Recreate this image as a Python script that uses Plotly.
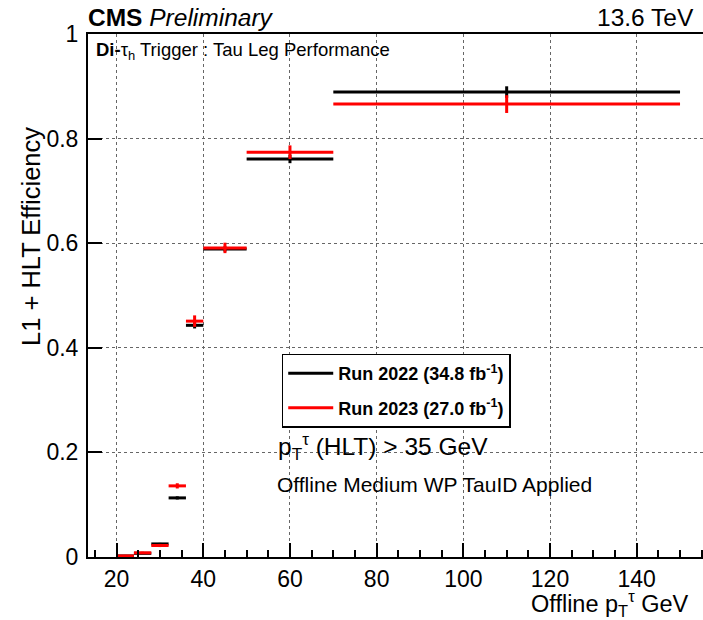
import plotly.graph_objects as go

# ---- data ----
bin_lo = [20, 24, 28, 32, 36, 40, 50, 70]
bin_hi = [24, 28, 32, 36, 40, 50, 70, 150]
eff_2022 = [0.002, 0.007, 0.025, 0.113, 0.443, 0.589, 0.761, 0.889]
err_2022 = [0.001, 0.001, 0.002, 0.003, 0.006, 0.005, 0.008, 0.011]
eff_2023 = [0.002, 0.008, 0.022, 0.136, 0.451, 0.591, 0.774, 0.866]
err_2023 = [0.002, 0.002, 0.003, 0.005, 0.011, 0.010, 0.013, 0.017]
label_2022 = "<b>Run 2022 (34.8 fb<sup>-1</sup>)</b>"
label_2023 = "<b>Run 2023 (27.0 fb<sup>-1</sup>)</b>"
x_ticks = [20, 40, 60, 80, 100, 120, 140]
y_ticks = [0, 0.2, 0.4, 0.6, 0.8, 1]
y_ticktext = ["0", "0.2", "0.4", "0.6", "0.8", "1"]

centers = [(a + b) / 2 for a, b in zip(bin_lo, bin_hi)]
halfw = [(b - a) / 2 for a, b in zip(bin_lo, bin_hi)]

FONT = "Liberation Sans, Arial, Helvetica, sans-serif"

fig = go.Figure()
for eff, err, col in [(eff_2022, err_2022, "black"), (eff_2023, err_2023, "#ff0000")]:
    fig.add_trace(go.Scatter(
        x=centers, y=eff, mode="markers",
        marker=dict(size=1, color=col),
        error_x=dict(type="data", array=halfw, color=col, thickness=3, width=0),
        error_y=dict(type="data", array=err, color=col, thickness=3, width=0),
        showlegend=False, hoverinfo="skip"))

# legend entries
fig.add_trace(go.Scatter(x=[None], y=[None], mode="lines", line=dict(color="black", width=3),
                         name=label_2022, legendgroup="a"))
fig.add_trace(go.Scatter(x=[None], y=[None], mode="lines", line=dict(color="#ff0000", width=3),
                         name=label_2023, legendgroup="b"))

fig.update_layout(
    width=703, height=620,
    margin=dict(l=88, r=0, t=34, b=63),
    paper_bgcolor="white", plot_bgcolor="white",
    font=dict(family=FONT, color="black", size=20),
    legend=dict(x=0.315, y=0.389, xanchor="left", yanchor="top",
                bordercolor="black", borderwidth=1.5, bgcolor="white",
                font=dict(size=18, color="black"), tracegroupgap=8,
                itemwidth=45),
)
fig.update_xaxes(
    range=[13.4, 155.3], showline=True, linecolor="black", linewidth=2, mirror=True,
    ticks="inside", ticklen=14, tickwidth=1.5, tickcolor="black",
    tickvals=x_ticks,
    minor=dict(ticks="inside", ticklen=7, dtick=5, tick0=0, tickcolor="black", tickwidth=1.5, showgrid=False),
    showgrid=True, gridcolor="#666", griddash="dot", gridwidth=1,
    zeroline=False, tickfont=dict(size=23), ticklabelstandoff=0)
fig.update_yaxes(
    range=[0, 1], showline=True, linecolor="black", linewidth=2, mirror=False,
    ticks="inside", ticklen=14, tickwidth=1.5, tickcolor="black",
    tickvals=y_ticks, ticktext=y_ticktext,
    showgrid=True, gridcolor="#666", griddash="dot", gridwidth=1,
    zeroline=False, tickfont=dict(size=23), ticklabelstandoff=3)

ann = [
    dict(text="<b>CMS</b> <i>Preliminary</i>", x=0, y=1, xref="paper", yref="paper",
         xanchor="left", yanchor="bottom", xshift=-2, yshift=1, showarrow=False, font=dict(size=24.5)),
    dict(text="13.6 TeV", x=1, y=1, xref="paper", yref="paper", xanchor="right", yanchor="bottom",
         xshift=-7, yshift=1, showarrow=False, font=dict(size=24.5)),
    dict(text="<b>Di-</b>τ<sub>h</sub> Trigger : Tau Leg Performance", x=0, y=1, xref="paper", yref="paper",
         xanchor="left", yanchor="top", xshift=6, yshift=-3, showarrow=False, font=dict(size=18.5)),
    dict(text="p<sub>T</sub><sup>τ</sup> (HLT) > 35 GeV", x=(276 - 88) / 615, y=(557 - 446) / 523,
         xref="paper", yref="paper", xanchor="left", yanchor="middle", showarrow=False, font=dict(size=24.5)),
    dict(text="Offline Medium WP TauID Applied", x=(275 - 88) / 615, y=(557 - 484) / 523,
         xref="paper", yref="paper", xanchor="left", yanchor="middle", showarrow=False, font=dict(size=21)),
    dict(text="Offline p<sub>T</sub><sup>τ</sup> GeV", x=(691 - 88) / 615, y=-46 / 523,
         xref="paper", yref="paper", xanchor="right", yanchor="middle", showarrow=False, font=dict(size=23.5)),
    dict(text="L1 + HLT Efficiency", x=-57 / 615, y=(557 - 237) / 523, textangle=-90,
         xref="paper", yref="paper", xanchor="center", yanchor="middle", showarrow=False, font=dict(size=25.5)),
]
fig.update_layout(annotations=ann)

fig.write_html("out.html")
